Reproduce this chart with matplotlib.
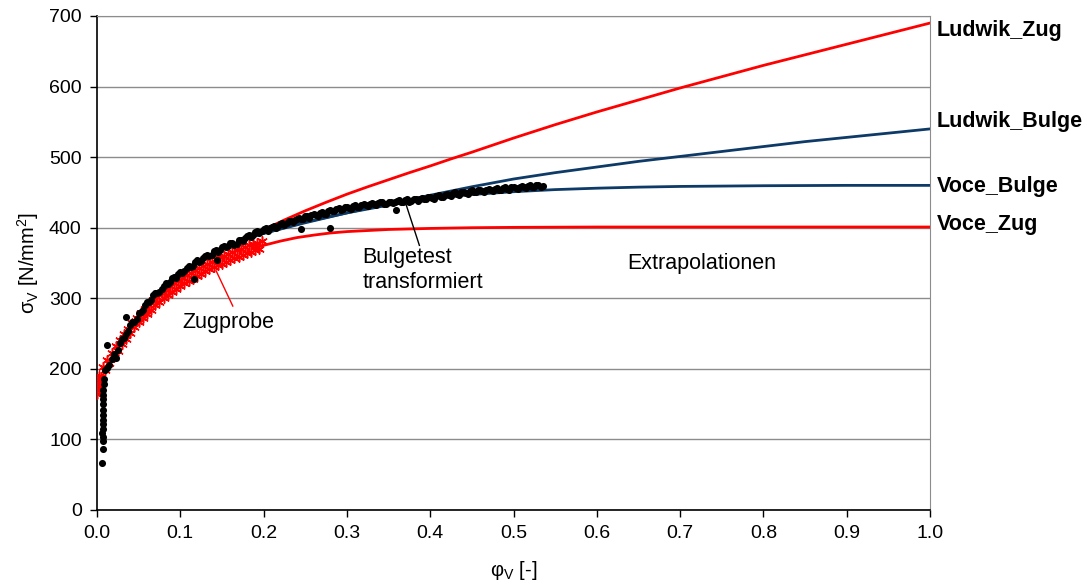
import matplotlib
matplotlib.use("Agg")
import matplotlib.pyplot as plt

plt.rcParams['font.family'] = ['Liberation Sans', 'DejaVu Sans']
plt.rcParams['mathtext.default'] = 'regular'

# Zugprobe (tensile test), lower and upper edge of the measured band
zug_x_lo = [0.000, 0.005, 0.010, 0.015, 0.020, 0.025, 0.030, 0.035, 0.040, 0.045,
            0.050, 0.055, 0.060, 0.065, 0.070, 0.075, 0.080, 0.085, 0.090, 0.095,
            0.100, 0.105, 0.110, 0.115, 0.120, 0.125, 0.130, 0.135, 0.140, 0.145,
            0.150, 0.155, 0.160, 0.165, 0.170, 0.175, 0.180, 0.185, 0.190, 0.195]
zug_y_lo = [171, 188, 198, 208, 217, 226, 235, 243, 251, 259,
            266, 272, 278, 284, 290, 295, 300, 305, 309, 313,
            317, 321, 325, 328, 332, 335, 338, 341, 344, 347,
            349, 352, 354, 357, 359, 362, 364, 366, 368, 370]
zug_x_hi = [0.0025, 0.0075, 0.0125, 0.0175, 0.0225, 0.0275, 0.0325, 0.0375, 0.0425, 0.0475,
            0.0525, 0.0575, 0.0625, 0.0675, 0.0725, 0.0775, 0.0825, 0.0875, 0.0925, 0.0975,
            0.1025, 0.1075, 0.1125, 0.1175, 0.1225, 0.1275, 0.1325, 0.1375, 0.1425, 0.1475,
            0.1525, 0.1575, 0.1625, 0.1675, 0.1725, 0.1775, 0.1825, 0.1875, 0.1925, 0.1975]
zug_y_hi = [190, 203, 213, 222, 232, 241, 249, 257, 265, 272,
            279, 285, 291, 297, 302, 307, 312, 317, 321, 325,
            329, 333, 336, 340, 343, 346, 349, 352, 355, 358,
            360, 363, 365, 368, 370, 373, 375, 377, 379, 381]
zug_x_start = [0.0005, 0.001, 0.0015, 0.002, 0.003]
zug_y_start = [165, 180, 186, 170, 176]

# Bulgetest transformiert
bulge_x_col = [0.0065, 0.0070, 0.0068, 0.0072, 0.0066, 0.0074, 0.0070, 0.0068,
               0.0075, 0.0071, 0.0069, 0.0076, 0.0073, 0.0078, 0.0080, 0.0085]
bulge_y_col = [67, 87, 98, 104, 109, 115, 122, 128, 135, 142, 150, 157, 163, 170, 178, 186]

bulge_x_a = [0.010, 0.015, 0.020, 0.025, 0.030, 0.035, 0.040, 0.045, 0.050, 0.055,
             0.060, 0.065, 0.070, 0.075, 0.080, 0.085, 0.090, 0.095, 0.100, 0.105,
             0.110, 0.115, 0.120, 0.125, 0.130, 0.135, 0.140, 0.145, 0.150, 0.155,
             0.160, 0.165, 0.170, 0.175, 0.180, 0.185, 0.190, 0.195, 0.200, 0.205,
             0.210, 0.215, 0.220, 0.225, 0.230, 0.235, 0.240, 0.245, 0.250, 0.255,
             0.260, 0.265, 0.270, 0.275, 0.280, 0.285, 0.290, 0.295, 0.300, 0.305,
             0.310, 0.315, 0.320, 0.325, 0.330, 0.335, 0.340, 0.345, 0.350, 0.355,
             0.360, 0.365, 0.370, 0.375, 0.380, 0.385, 0.390, 0.395, 0.400, 0.405,
             0.410, 0.415, 0.420, 0.425, 0.430, 0.435, 0.440, 0.445, 0.450, 0.455,
             0.460, 0.465, 0.470, 0.475, 0.480, 0.485, 0.490, 0.495, 0.500, 0.505,
             0.510, 0.515, 0.520, 0.525, 0.530, 0.535]
bulge_y_a = [198, 206, 221, 227, 243, 249, 262, 266, 279, 284,
             295, 298, 308, 309, 318, 320, 329, 329, 337, 338,
             346, 346, 354, 353, 360, 360, 367, 366, 373, 372,
             378, 376, 382, 381, 388, 387, 394, 392, 398, 396,
             401, 400, 405, 404, 409, 408, 413, 412, 416, 414,
             419, 417, 422, 420, 425, 423, 428, 426, 430, 427,
             432, 429, 433, 431, 435, 432, 436, 434, 437, 435,
             438, 436, 439, 437, 441, 438, 442, 440, 444, 441,
             446, 443, 448, 445, 450, 447, 451, 448, 453, 450,
             454, 451, 455, 452, 456, 453, 457, 454, 458, 455,
             459, 456, 460, 457, 461, 459]

bulge_x_b = [0.0125, 0.0175, 0.0225, 0.0275, 0.0325, 0.0375, 0.0425, 0.0475, 0.0525, 0.0575,
             0.0625, 0.0675, 0.0725, 0.0775, 0.0825, 0.0875, 0.0925, 0.0975, 0.1025, 0.1075,
             0.1125, 0.1175, 0.1225, 0.1275, 0.1325, 0.1375, 0.1425, 0.1475, 0.1525, 0.1575,
             0.1625, 0.1675, 0.1725, 0.1775, 0.1825, 0.1875, 0.1925, 0.1975, 0.2025, 0.2075,
             0.2125, 0.2175, 0.2225, 0.2275, 0.2325, 0.2375, 0.2425, 0.2475, 0.2525, 0.2575,
             0.2625, 0.2675, 0.2725, 0.2775, 0.2825, 0.2875, 0.2925, 0.2975, 0.3025, 0.3075,
             0.3125, 0.3175, 0.3225, 0.3275, 0.3325, 0.3375, 0.3425, 0.3475, 0.3525, 0.3575,
             0.3625, 0.3675, 0.3725, 0.3775, 0.3825, 0.3875, 0.3925, 0.3975, 0.4025, 0.4075,
             0.4125, 0.4175, 0.4225, 0.4275, 0.4325, 0.4375, 0.4425, 0.4475, 0.4525, 0.4575,
             0.4625, 0.4675, 0.4725, 0.4775, 0.4825, 0.4875, 0.4925, 0.4975, 0.5025, 0.5075,
             0.5125, 0.5175, 0.5225, 0.5275, 0.5325]
bulge_y_b = [201, 214, 216, 236, 244, 253, 266, 270, 280, 291,
             295, 305, 307, 313, 321, 323, 330, 334, 336, 343,
             345, 351, 351, 357, 361, 362, 368, 369, 374, 374,
             379, 377, 383, 385, 389, 390, 395, 395, 399, 399,
             403, 402, 407, 406, 410, 411, 414, 413, 417, 418,
             418, 421, 420, 424, 424, 427, 425, 429, 428, 431,
             430, 432, 432, 434, 433, 435, 436, 434, 437, 436,
             439, 437, 440, 438, 440, 441, 441, 443, 442, 445,
             444, 447, 446, 449, 448, 450, 449, 452, 451, 453,
             452, 454, 453, 455, 454, 456, 455, 457, 456, 458,
             457, 459, 458, 460, 458]

bulge_x_out = [0.0124, 0.035, 0.116, 0.144, 0.245, 0.280, 0.359]
bulge_y_out = [234, 273, 328, 354, 398, 399, 425]

# Fitted curves
lud_zug_x = [0.200, 0.225, 0.250, 0.275, 0.300, 0.325, 0.350, 0.375, 0.400, 0.425,
             0.450, 0.475, 0.500, 0.550, 0.600, 0.650, 0.700, 0.750, 0.800, 0.850,
             0.900, 0.950, 1.000]
lud_zug_y = [397, 411, 424, 436, 447.5, 458, 468, 478, 487.5, 497.5,
             507, 517, 527, 546, 564, 581, 598, 614, 630, 645,
             660, 675, 690]

lud_bulge_x = [0.18, 0.20, 0.25, 0.30, 0.35, 0.40, 0.45, 0.50, 0.55, 0.60,
               0.65, 0.70, 0.75, 0.80, 0.85, 0.90, 0.95, 1.00]
lud_bulge_y = [385, 392, 407, 421, 434, 446, 458, 469, 478, 486,
               494, 501, 508, 515, 522, 528, 534, 540]

voce_bulge_x = [0.18, 0.20, 0.25, 0.30, 0.35, 0.40, 0.45, 0.50, 0.55, 0.60,
                0.65, 0.70, 0.80, 0.90, 1.00]
voce_bulge_y = [385, 392, 408, 421, 432, 441, 447, 451, 454, 456,
                457.5, 458.5, 459.5, 460, 460]

voce_zug_x = [0.19, 0.20, 0.22, 0.24, 0.26, 0.28, 0.30, 0.35, 0.40, 0.45,
              0.50, 0.60, 0.80, 1.00]
voce_zug_y = [372, 375, 381, 386, 389.5, 392.5, 394.5, 397.5, 399, 400,
              400.5, 401, 401, 401]

navy = '#0d3a66'

fig = plt.figure(figsize=(10.87, 5.88), dpi=100)
ax = fig.add_axes([97 / 1087, 1 - 510 / 588, 833 / 1087, 494 / 588])

ax.plot(lud_zug_x, lud_zug_y, color='red', lw=2.0, zorder=2)
ax.plot(voce_zug_x, voce_zug_y, color='red', lw=2.0, zorder=2)
ax.plot(lud_bulge_x, lud_bulge_y, color=navy, lw=2.0, zorder=2)
ax.plot(voce_bulge_x, voce_bulge_y, color=navy, lw=2.0, zorder=2)

star = dict(color='red', marker=(6, 2, 0), s=45, linewidths=1.1, zorder=3)
ax.scatter(zug_x_lo, zug_y_lo, **star)
ax.scatter(zug_x_hi, zug_y_hi, **star)
ax.scatter(zug_x_start, zug_y_start, **star)

dot = dict(color='black', s=26, linewidths=0, zorder=4)
ax.scatter(bulge_x_col, bulge_y_col, **dot)
ax.scatter(bulge_x_a, bulge_y_a, **dot)
ax.scatter(bulge_x_b, bulge_y_b, **dot)
ax.scatter(bulge_x_out, bulge_y_out, **dot)

ax.set_xlim(0, 1.0)
ax.set_ylim(0, 700)
ax.set_xticks([i / 10 for i in range(11)])
ax.set_xticklabels([f'{i / 10:.1f}' for i in range(11)])
ax.set_yticks(range(0, 701, 100))
ax.tick_params(labelsize=14, length=5, width=1, direction='out', pad=6)
ax.yaxis.grid(True, color='#8c8c8c', lw=1.0)
ax.set_axisbelow(True)
for side in ('top', 'right'):
    ax.spines[side].set_color('#8c8c8c')
ax.spines['left'].set_linewidth(1.2)
ax.spines['bottom'].set_linewidth(1.2)

ax.set_ylabel(r'σ$_V$ [N/mm$^2$]', fontsize=14.5, labelpad=6)
ax.set_xlabel(r'φ$_V$ [-]', fontsize=14.5, labelpad=12)

# labels at the right end of each curve
for y, name in [(680, 'Ludwik_Zug'), (550, 'Ludwik_Bulge'),
                (459, 'Voce_Bulge'), (404, 'Voce_Zug')]:
    ax.text(1.008, y, name, fontsize=15.5, fontweight='bold', va='center', clip_on=False)

ax.text(0.636, 350, 'Extrapolationen', fontsize=15.5, va='center')
ax.text(0.319, 340, 'Bulgetest\ntransformiert', fontsize=15.5, va='center', linespacing=1.2)
ax.plot([0.371, 0.387], [433, 375], color='black', lw=1.0, zorder=5)
ax.text(0.103, 266, 'Zugprobe', fontsize=15.5, va='center')
ax.plot([0.143, 0.163], [339, 289], color='red', lw=1.0, zorder=5)

fig.savefig('out.png', dpi=100)
